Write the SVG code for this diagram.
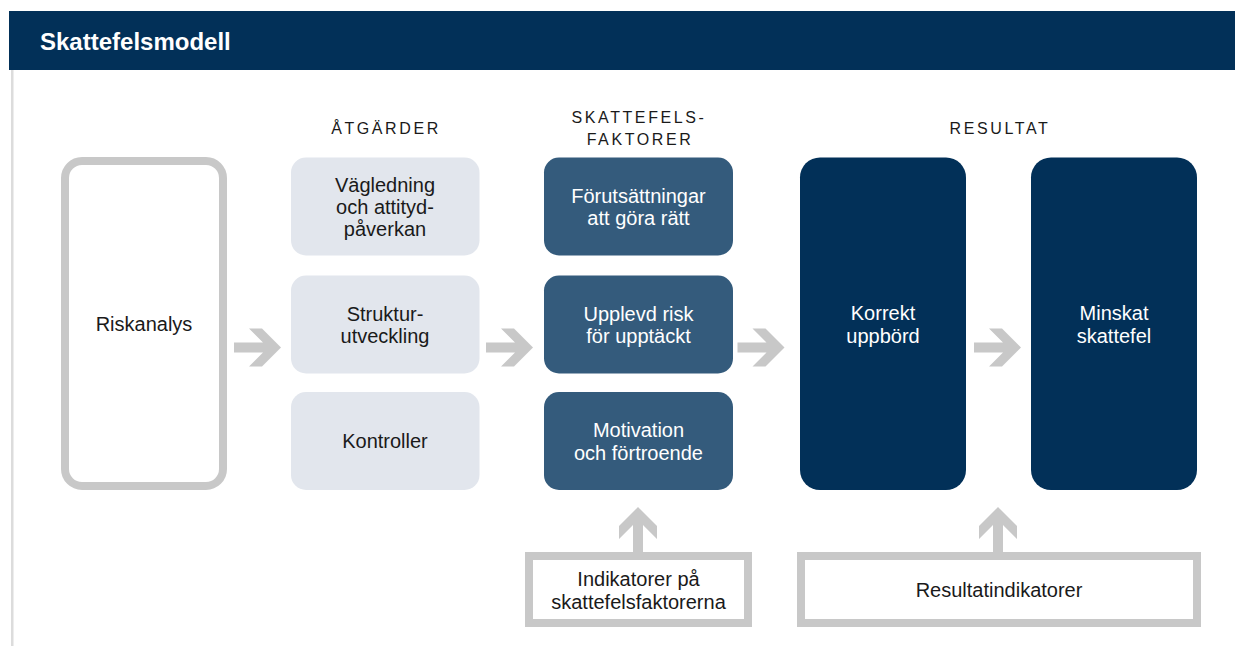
<svg xmlns="http://www.w3.org/2000/svg" width="1235" height="646" viewBox="0 0 1235 646">
<style>
text{font-family:"Liberation Sans",Arial,sans-serif;font-size:20px;text-anchor:middle}
.dk{fill:#1a1a1a}
.wt{fill:#ffffff}
.hd{font-size:16px;letter-spacing:2.6px;fill:#1a1a1a}
.light{fill:#e2e6ed}
.mid{fill:#345b7c}
.dark{fill:#023058}
.frame{fill:#ffffff;stroke:#c8c8c8;stroke-width:8}
.arr{fill:#c8c8c8}
</style>
<defs>
<polygon id="ah" points="0,-5 29,-5 15,-19 28,-19 47,0 28,19 15,19 29,5 0,5"/>
</defs>
<rect x="9" y="11" width="1226" height="59" fill="#023058"/>
<text x="40" y="50" class="wt" style="font-size:24px;font-weight:bold;text-anchor:start">Skattefelsmodell</text>
<rect x="11" y="70" width="2.5" height="576" fill="#dcdcdc"/>
<g id="headers">
<text x="386" y="134" class="hd">ÅTGÄRDER</text>
<text x="639" y="123" class="hd">SKATTEFELS-</text>
<text x="640" y="145" class="hd">FAKTORER</text>
<text x="1000" y="134" class="hd">RESULTAT</text>
</g>
<g id="connectors" class="arr">
<use href="#ah" x="234" y="347.5"/>
<use href="#ah" x="486" y="347.5"/>
<use href="#ah" x="737.5" y="347.5"/>
<use href="#ah" x="974" y="347.5"/>
<use href="#ah" transform="translate(638,554) rotate(-90)"/>
<use href="#ah" transform="translate(998,554) rotate(-90)"/>
</g>
<g id="riskanalys">
<rect x="65" y="161" width="158" height="325" rx="17" class="frame"/>
<text x="144" y="331" class="dk">Riskanalys</text>
</g>
<g id="vagledning">
<rect x="291" y="157.5" width="188.5" height="98" rx="15" class="light"/>
<text x="385" y="191.5" class="dk">Vägledning</text>
<text x="385" y="213.5" class="dk">och attityd-</text>
<text x="385" y="235.5" class="dk">påverkan</text>
</g>
<g id="strukturutveckling">
<rect x="291" y="275.5" width="188.5" height="98" rx="15" class="light"/>
<text x="385" y="320.5" class="dk">Struktur-</text>
<text x="385" y="343" class="dk">utveckling</text>
</g>
<g id="kontroller">
<rect x="291" y="392" width="188.5" height="98" rx="15" class="light"/>
<text x="385" y="448" class="dk">Kontroller</text>
</g>
<g id="forutsattningar">
<rect x="544" y="157.5" width="189" height="98" rx="15" class="mid"/>
<text x="638.5" y="202.5" class="wt">Förutsättningar</text>
<text x="638.5" y="225" class="wt">att göra rätt</text>
</g>
<g id="upplevd-risk">
<rect x="544" y="275.5" width="189" height="98" rx="15" class="mid"/>
<text x="638.5" y="320.5" class="wt">Upplevd risk</text>
<text x="638.5" y="343" class="wt">för upptäckt</text>
</g>
<g id="motivation">
<rect x="544" y="392" width="189" height="98" rx="15" class="mid"/>
<text x="638.5" y="437" class="wt">Motivation</text>
<text x="638.5" y="459.5" class="wt">och förtroende</text>
</g>
<g id="korrekt-uppbord">
<rect x="800" y="157.5" width="166" height="332.5" rx="20" class="dark"/>
<text x="883" y="320" class="wt">Korrekt</text>
<text x="883" y="343" class="wt">uppbörd</text>
</g>
<g id="minskat-skattefel">
<rect x="1031" y="157.5" width="166" height="332.5" rx="20" class="dark"/>
<text x="1114" y="320" class="wt">Minskat</text>
<text x="1114" y="343" class="wt">skattefel</text>
</g>
<g id="indikatorer">
<rect x="529" y="556" width="219" height="67" class="frame"/>
<text x="638.5" y="586" class="dk">Indikatorer på</text>
<text x="638.5" y="608.5" class="dk">skattefelsfaktorerna</text>
</g>
<g id="resultatindikatorer">
<rect x="801" y="556" width="396" height="67" class="frame"/>
<text x="999" y="597" class="dk">Resultatindikatorer</text>
</g>
</svg>
